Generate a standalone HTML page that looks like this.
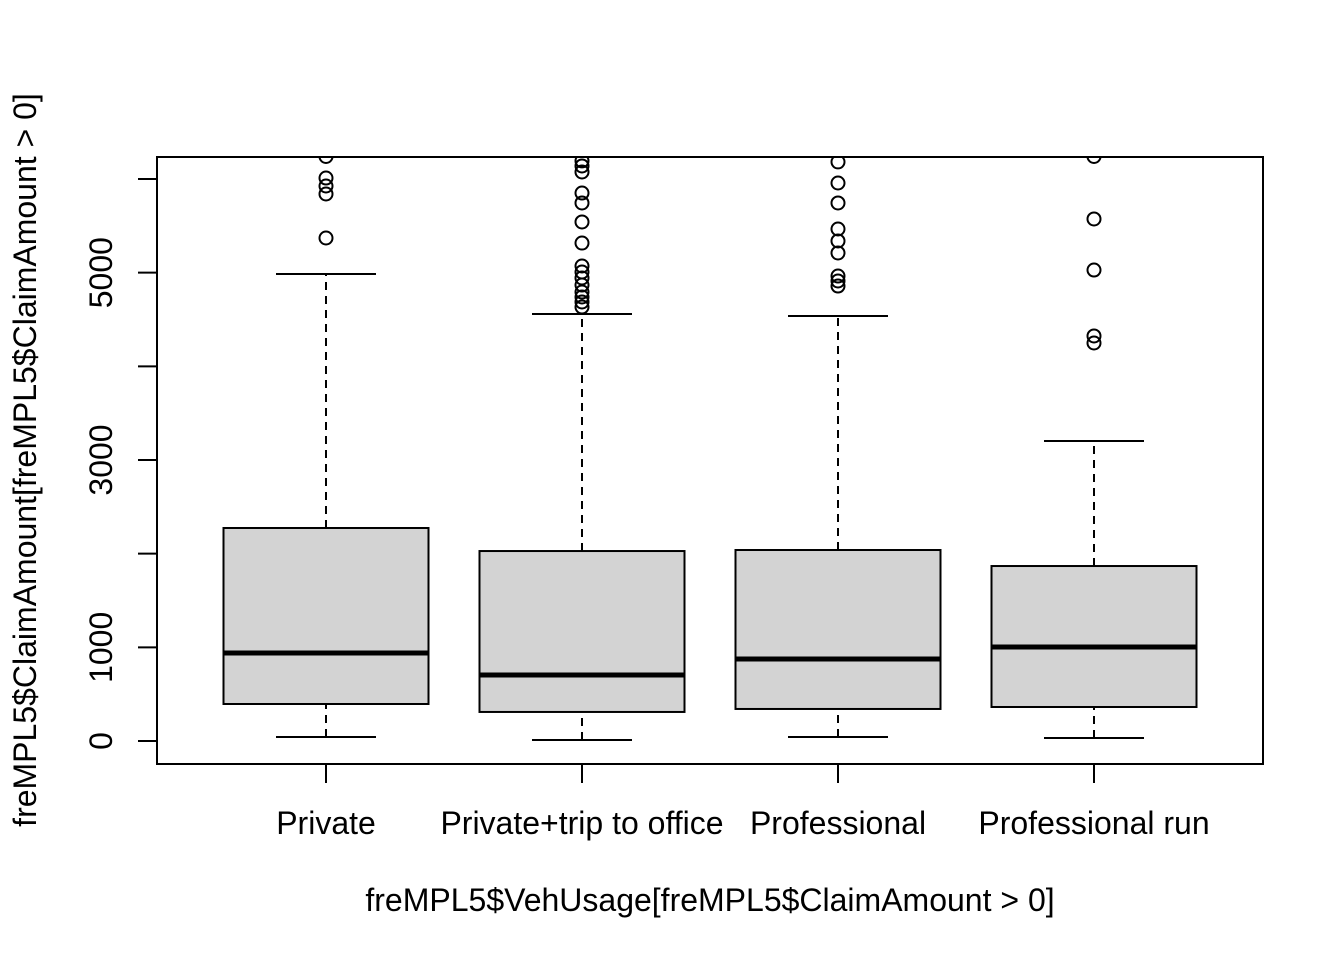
<!DOCTYPE html>
<html><head><meta charset="utf-8"><style>
html,body{margin:0;padding:0;background:#fff;}
svg text{font-family:"Liberation Sans",Arial,sans-serif;fill:#000;}
</style></head><body>
<svg id="chart" width="1344" height="960" xmlns="http://www.w3.org/2000/svg">
<defs><clipPath id="plotclip"><rect x="157" y="157" width="1106" height="607"/></clipPath></defs>
<rect x="157" y="157" width="1106" height="607" fill="none" stroke="#000" stroke-width="2"/>
<g id="boxes" clip-path="url(#plotclip)"></g>
<g id="axes"></g>
<text x="710" y="911" font-size="32" text-anchor="middle">freMPL5$VehUsage[freMPL5$ClaimAmount &gt; 0]</text>
<text transform="translate(36,460) rotate(-90)" font-size="32" text-anchor="middle">freMPL5$ClaimAmount[freMPL5$ClaimAmount &gt; 0]</text>
</svg>
<script>
const categories = ["Private","Private+trip to office","Professional","Professional run"];
const whiskerLow = [43, 11, 43, 32];
const q1 = [395, 310, 342, 363];
const medians = [940, 705, 875, 1003];
const q3 = [2274, 2028, 2039, 1868];
const whiskerHigh = [4985, 4558, 4537, 3203];
const outliers = [
  [5370, 5840, 5925, 6010, 6240],
  [4633, 4687, 4740, 4793, 4868, 4943, 5007, 5071, 5316, 5541, 5744, 5850, 6075, 6139, 6193],
  [4857, 4911, 4964, 5210, 5338, 5466, 5744, 5957, 6182],
  [4249, 4324, 5028, 5573, 6240]
];
const yTicks = [0, 1000, 2000, 3000, 4000, 5000, 6000];
const yTickLabels = ["0", "1000", "", "3000", "", "5000", ""];

const NS = "http://www.w3.org/2000/svg";
function yScale(v){ return 741 - v * 0.09367; }
function xScale(i){ return 326 + i * 256; }
function mk(tag, attrs, parent){
  const e = document.createElementNS(NS, tag);
  for (const k in attrs) e.setAttribute(k, attrs[k]);
  parent.appendChild(e); return e;
}
const boxes = document.getElementById("boxes");
const axes = document.getElementById("axes");
const hw = 102.5, cw = 50;
categories.forEach((c, i) => {
  const cx = xScale(i);
  const g = mk("g", {}, boxes);
  
  
  const wl = mk("line", {x1:cx, x2:cx, y1:yScale(whiskerLow[i]), y2:yScale(q1[i]), stroke:"#000", "stroke-width":2, "stroke-dasharray":"8,6"}, g);
  
  
  const wu = mk("line", {x1:cx, x2:cx, y1:yScale(q3[i]), y2:yScale(whiskerHigh[i]), stroke:"#000", "stroke-width":2, "stroke-dasharray":"8,6"}, g);
  
  
  const cl = mk("line", {x1:cx-cw, x2:cx+cw, y1:yScale(whiskerLow[i]), y2:yScale(whiskerLow[i]), stroke:"#000", "stroke-width":2}, g);
  
  
  const cu = mk("line", {x1:cx-cw, x2:cx+cw, y1:yScale(whiskerHigh[i]), y2:yScale(whiskerHigh[i]), stroke:"#000", "stroke-width":2}, g);
  
  
  const r = mk("rect", {x:cx-hw, y:yScale(q3[i]), width:2*hw, height:yScale(q1[i])-yScale(q3[i]), fill:"#d3d3d3", stroke:"#000", "stroke-width":2}, g);
  
  
  const m = mk("line", {x1:cx-hw, x2:cx+hw, y1:yScale(medians[i]), y2:yScale(medians[i]), stroke:"#000", "stroke-width":5}, g);
  
  
  outliers[i].forEach(v => {
    const o = mk("circle", {cx:cx, cy:yScale(v), r:6.5, fill:"none", stroke:"#000", "stroke-width":2}, g);
    
    
  });
  const t = mk("line", {x1:cx, x2:cx, y1:764, y2:783, stroke:"#000", "stroke-width":2}, axes);
  
  
  const tl = mk("text", {x:cx, y:834, "font-size":32, "text-anchor":"middle"}, axes);
  tl.textContent = c;
  
  
});
yTicks.forEach((v, i) => {
  const y = yScale(v);
  const t = mk("line", {x1:138, x2:157, y1:y, y2:y, stroke:"#000", "stroke-width":2}, axes);
  
  
  if (yTickLabels[i]) {
    const tl = mk("text", {transform:"translate(112," + y + ") rotate(-90)", "font-size":32, "text-anchor":"middle"}, axes);
    tl.textContent = yTickLabels[i];
    
    
  }
});
</script>
</body></html>
